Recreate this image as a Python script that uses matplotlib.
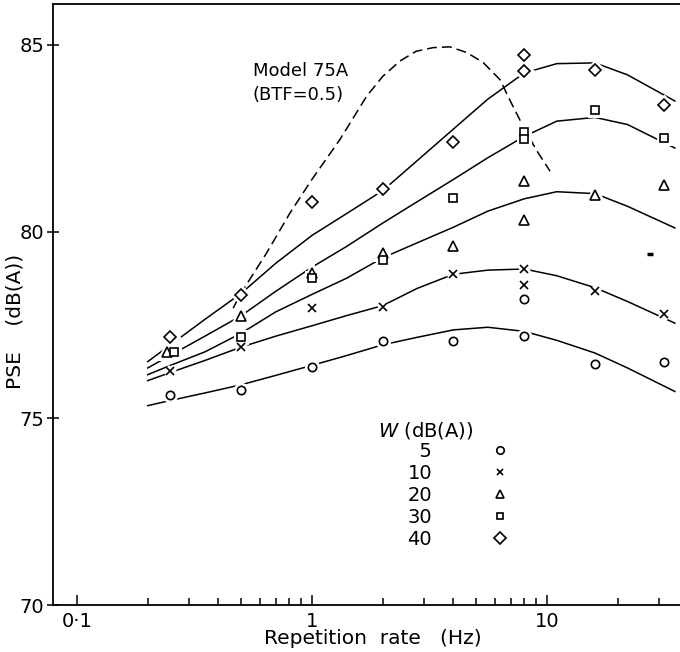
import matplotlib
matplotlib.use("Agg")
import matplotlib.pyplot as plt
from matplotlib.lines import Line2D
from matplotlib.ticker import FixedLocator, NullFormatter

plt.rcParams["font.family"] = ["DejaVu Sans"]

# =========================
# data
# =========================
RATE = [0.25, 0.5, 1, 2, 4, 8, 16, 31.5]

# measured PSE, W = 5 / 10 / 20 / 30 / 40 dB(A)
PSE_W5 = [75.63, 75.75, 76.38, 77.06, 77.06, 77.21, 76.46, 76.52]
PSE_W10 = [76.28, 76.91, 77.95, 77.98, 78.87, 79.00, 78.40, 77.79]
PSE_W20 = [76.77, 77.75, 78.90, 79.43, 79.61, 81.35, 80.97, 81.26]
PSE_W30 = [76.77, 77.17, 78.76, 79.25, 80.90, 82.66, 83.25, 82.51]
PSE_W40 = [77.18, 78.31, 80.79, 81.13, 82.40, 84.30, 84.33, 83.38]

# triangle / square at 0.25 Hz are drawn side by side in the original
RATE_W20 = [0.241, 0.5, 1, 2, 4, 8, 16, 31.5]
RATE_W30 = [0.259, 0.5, 1, 2, 4, 8, 16, 31.5]

# second (repeated) points at 8 Hz
EXTRA_RATE = [8]
EXTRA_W5 = [78.20]
EXTRA_W10 = [78.58]
EXTRA_W20 = [80.32]
EXTRA_W30 = [82.47]
EXTRA_W40 = [84.72]

# stray mark in the scan
STRAY_X = [27.4]
STRAY_Y = [79.41]

# fitted curves (solid)
CURVE_X = [0.2, 0.25, 0.35, 0.5, 0.7, 1, 1.4, 2, 2.8, 4, 5.6, 8, 11, 16, 22, 35]
CURVE_W5 = [75.34, 75.48, 75.68, 75.90, 76.15, 76.42, 76.68, 76.97, 77.17, 77.37, 77.44, 77.33, 77.09, 76.75, 76.35, 75.72]
CURVE_W10 = [76.01, 76.23, 76.55, 76.91, 77.20, 77.48, 77.75, 78.02, 78.48, 78.86, 78.97, 79.00, 78.82, 78.50, 78.13, 77.55]
CURVE_W20 = [76.17, 76.42, 76.78, 77.28, 77.85, 78.32, 78.75, 79.30, 79.70, 80.12, 80.55, 80.88, 81.07, 81.02, 80.68, 80.10]
CURVE_W30 = [76.35, 76.69, 77.20, 77.75, 78.40, 79.05, 79.60, 80.23, 80.80, 81.40, 81.98, 82.55, 82.96, 83.06, 82.87, 82.24]
CURVE_W40 = [76.52, 76.97, 77.65, 78.35, 79.15, 79.90, 80.48, 81.10, 81.90, 82.75, 83.55, 84.25, 84.50, 84.52, 84.20, 83.50]

# Model 75A (BTF=0.5), dashed
MODEL_X = [0.462, 0.494, 0.641, 0.806, 0.997, 1.315, 1.709, 2.0, 2.368, 2.77,
           3.28, 3.86, 4.55, 5.35, 6.31, 7.03, 7.80, 8.98, 10.3]
MODEL_Y = [77.95, 78.31, 79.43, 80.50, 81.39, 82.47, 83.63, 84.16, 84.57, 84.83,
           84.93, 84.95, 84.80, 84.53, 84.07, 83.46, 82.90, 82.20, 81.62]

W_LABELS = ["\u20075", "10", "20", "30", "40"]
MARKERS = ["o", "x", "^", "s", "D"]
MSIZES = [6, 5.5, 7, 5.5, 6.5]

XTICKS = [0.1, 1, 10]
XTICK_LABELS = ["0\u00b71", "1", "10"]
XMINOR = [0.2, 0.3, 0.4, 0.5, 0.6, 0.7, 0.8, 0.9, 2, 3, 4, 5, 6, 7, 8, 9, 20, 30]
YTICKS = [70, 75, 80, 85]

# =========================
# figure
# =========================
fig = plt.figure(figsize=(6.8, 6.52), dpi=100)
ax = fig.add_axes([0.078, 0.072, 0.922, 0.922])
ax.set_xscale("log")
ax.set_xlim(0.0791, 36.8)
ax.set_ylim(70, 86.1)

LW = 1.1
for cy in [CURVE_W5, CURVE_W10, CURVE_W20, CURVE_W30, CURVE_W40]:
    ax.plot(CURVE_X, cy, color="black", lw=LW, zorder=2)
ax.plot(MODEL_X, MODEL_Y, color="black", lw=LW, dashes=(6.5, 3.3), zorder=2)

series = [
    (RATE, PSE_W5, EXTRA_W5),
    (RATE, PSE_W10, EXTRA_W10),
    (RATE_W20, PSE_W20, EXTRA_W20),
    (RATE_W30, PSE_W30, EXTRA_W30),
    (RATE, PSE_W40, EXTRA_W40),
]
for (xs, ys, ex), m, ms in zip(series, MARKERS, MSIZES):
    allx = list(xs) + EXTRA_RATE
    ally = list(ys) + ex
    # white halo so the curves break around the symbols
    ax.plot(allx, ally, ls="none", marker=m, ms=ms, mfc="white", mec="white",
            mew=5, zorder=3)
    ax.plot(allx, ally, ls="none", marker=m, ms=ms, mfc="white", mec="black",
            mew=1.2, zorder=4)

ax.plot(STRAY_X, STRAY_Y, ls="none", marker="_", ms=4, mew=2.5, color="black", zorder=4)

ax.text(0.561, 84.29, "Model 75A", fontsize=13, ha="left", va="center")
ax.text(0.561, 83.65, "(BTF=0.5)", fontsize=13, ha="left", va="center")

# key
ax.text(0.518, 0.291, "$W$ (dB(A))", transform=ax.transAxes, fontsize=14,
        ha="left", va="center")
handles = [Line2D([], [], ls="none", marker=m, ms=ms * 0.9, mfc="white",
                  mec="black", mew=1.2) for m, ms in zip(MARKERS, MSIZES)]
ax.legend(handles, W_LABELS, markerfirst=False, frameon=False, fontsize=14,
          loc="upper left", bbox_to_anchor=(0.565, 0.2717), handlelength=2,
          handletextpad=2.5, labelspacing=0.16, borderpad=0, borderaxespad=0)

# axes
ax.spines["right"].set_visible(False)
for s in ["left", "bottom", "top"]:
    ax.spines[s].set_linewidth(1.3)
ax.xaxis.set_major_locator(FixedLocator(XTICKS))
ax.set_xticklabels(XTICK_LABELS)
ax.xaxis.set_minor_locator(FixedLocator(XMINOR))
ax.xaxis.set_minor_formatter(NullFormatter())
ax.set_yticks(YTICKS)
ax.tick_params(axis="x", which="major", direction="in", length=7, width=1.1,
               labelsize=14, pad=5, top=False)
ax.tick_params(axis="x", which="minor", direction="in", length=5, width=1.1, top=False)
ax.tick_params(axis="y", which="major", direction="inout", length=9, width=1.1,
               labelsize=14, pad=2, right=False)

ax.set_xlabel("Repetition  rate   (Hz)", fontsize=14.5)
ax.xaxis.set_label_coords(0.51, -0.040)
ax.set_ylabel("PSE    (dB(A))", fontsize=14.5)
ax.yaxis.set_label_coords(-0.045, 0.472)

fig.savefig("out.png", dpi=100)
